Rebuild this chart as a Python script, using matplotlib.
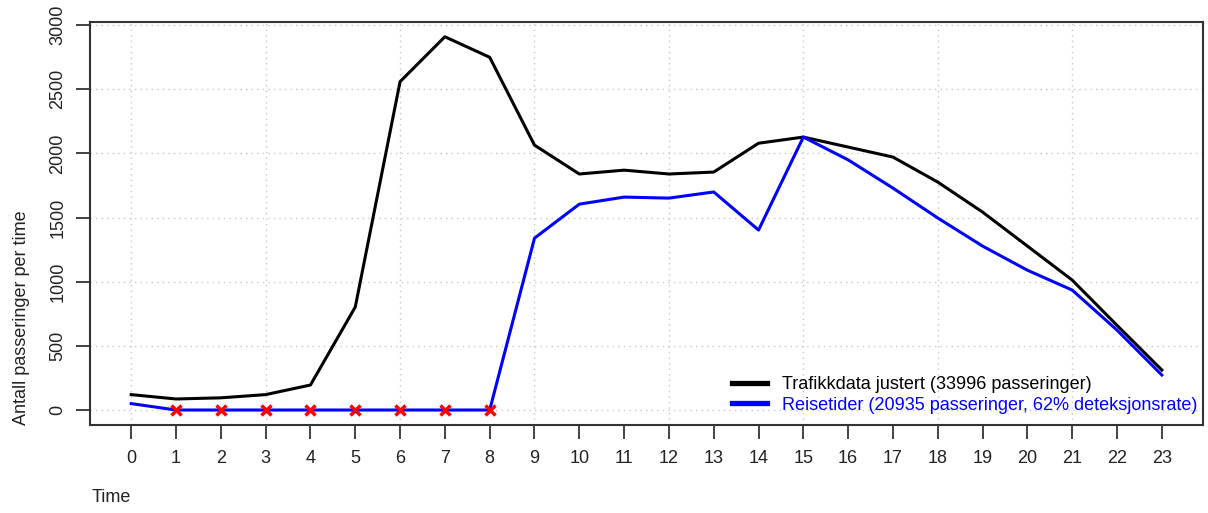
import matplotlib
matplotlib.use("Agg")
import matplotlib.pyplot as plt
import numpy as np

plt.rcParams['font.family'] = ['Liberation Sans', 'DejaVu Sans']

hours = list(range(24))
trafikk = [120, 86, 95, 120, 195, 803, 2560, 2910, 2750, 2065, 1840, 1870,
           1840, 1855, 2080, 2128, 2050, 1972, 1777, 1543, 1278, 1013, 660, 312]
reisetider = [50, 0, 0, 0, 0, 0, 0, 0, 0, 1340, 1605, 1660,
              1652, 1700, 1403, 2128, 1950, 1730, 1497, 1278, 1090, 935, 623, 273]
missing_hours = [1, 2, 3, 4, 5, 6, 7, 8]
y_ticks = [0, 500, 1000, 1500, 2000, 2500, 3000]
grid_x = [0, 3, 6, 9, 12, 15, 18, 21]

fig = plt.figure(figsize=(12.08, 5.13), dpi=100)
ax = fig.add_axes([0.0745, 0.1715, 0.9214, 0.7856])

for gx in grid_x:
    ax.axvline(gx, color='#c8c8c8', lw=1, ls=(0, (1, 3)), zorder=0)
for gy in y_ticks:
    ax.axhline(gy, color='#c8c8c8', lw=1, ls=(0, (1, 3)), zorder=0)

ax.plot(hours, trafikk, color='black', lw=2.2, zorder=3)
ax.plot(hours, reisetider, color='#0000ff', lw=2.2, zorder=3)
ax.plot(missing_hours, [0] * len(missing_hours), ls='none', marker='x',
        color='red', ms=7, mew=2.5, zorder=4)

ax.set_xlim(-0.92, 23.92)
ax.set_ylim(-117, 3025)

fs = 13
ax.set_xticks(hours)
ax.set_xticklabels([str(h) for h in hours], fontsize=fs, color='#222222')
ax.set_yticks(y_ticks)
ax.set_yticklabels([str(v) for v in y_ticks], fontsize=fs, color='#222222',
                   rotation=90, va='center')
ax.tick_params(axis='x', length=10, width=1.2, pad=8, color='#222222', direction='out')
ax.tick_params(axis='y', length=10, width=1.2, pad=7, color='#222222', direction='out')
for s in ax.spines.values():
    s.set_linewidth(1.5)
    s.set_color('#333333')

fig.text(0.076, 0.03, 'Time', fontsize=fs, color='#222222', ha='left', va='center')
ax.set_ylabel('Antall passeringer per time', fontsize=fs, color='#222222',
              loc='bottom', labelpad=14)

h1, = ax.plot([], [], color='black', lw=3.8)
h2, = ax.plot([], [], color='#0000ff', lw=3.8)
leg = ax.legend([h1, h2], ['Trafikkdata justert (33996 passeringer)',
                           'Reisetider (20935 passeringer, 62% deteksjonsrate)'],
                loc='lower right', frameon=False, fontsize=fs,
                handlelength=1.95, handletextpad=0.85, labelspacing=0.2,
                borderaxespad=0.0, borderpad=0.3,
                bbox_to_anchor=(1.0, 0.015))
for txt, c in zip(leg.get_texts(), ['black', '#0000ff']):
    txt.set_color(c)

fig.savefig('out.png', dpi=100)
